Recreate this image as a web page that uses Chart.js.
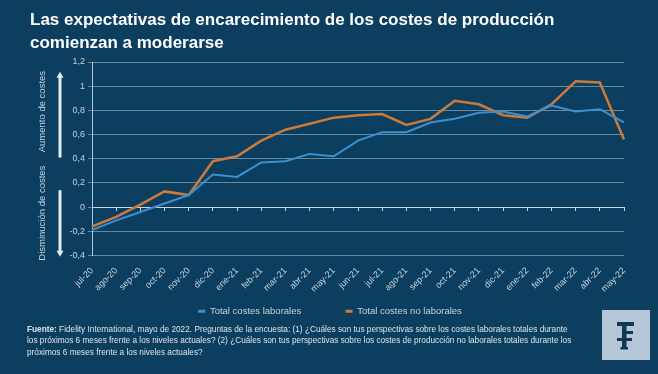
<!DOCTYPE html>
<html><head><meta charset="utf-8">
<script src="https://cdn.jsdelivr.net/npm/chart.js@4/dist/chart.umd.min.js"></script>
<style>
html,body{margin:0;padding:0;}
body{width:658px;height:374px;overflow:hidden;background:#0c3f5f;position:relative;font-family:"Liberation Sans",Arial,sans-serif;}
#title{position:absolute;left:30px;top:8px;color:#ffffff;font-weight:bold;font-size:17px;line-height:23px;}
#wrap{position:absolute;left:0;top:0;width:658px;height:374px;}
#foot{position:absolute;left:27px;top:324px;color:#dce4ea;font-size:8.25px;line-height:11.3px;white-space:nowrap;}
#logo{position:absolute;left:602px;top:310px;width:48px;height:50px;background:#b5c7d6;}
</style></head><body>
<div id="wrap"><canvas id="c" width="658" height="374"></canvas></div>
<div id="title">Las expectativas de encarecimiento de los costes de producción<br>comienzan a moderarse</div>
<div id="foot"><b>Fuente:</b> Fidelity International, mayo de 2022. Preguntas de la encuesta: (1) ¿Cuáles son tus perspectivas sobre los costes laborales totales durante<br>los próximos 6 meses frente a los niveles actuales? (2) ¿Cuáles son tus perspectivas sobre los costes de producción no laborales totales durante los<br>próximos 6 meses frente a los niveles actuales?</div>
<div id="logo"><svg width="48" height="50" viewBox="0 0 48 50">
<g fill="#0e3a56">
<rect x="15" y="12" width="17" height="4"/>
<rect x="20" y="12" width="4.5" height="27"/>
<rect x="20" y="21" width="11" height="3"/>
<rect x="15" y="28" width="15" height="3"/>
<rect x="18.5" y="37" width="7.5" height="2.5"/>
</g></svg></div>
<script>
const categories = ["jul-20","ago-20","sep-20","oct-20","nov-20","dic-20","ene-21","feb-21","mar-21","abr-21","may-21","jun-21","jul-21","ago-21","sep-21","oct-21","nov-21","dic-21","ene-22","feb-22","mar-22","abr-22","may-22"];
const costesLaborales = [-0.19,-0.11,-0.04,0.03,0.10,0.27,0.25,0.37,0.38,0.44,0.42,0.55,0.62,0.62,0.70,0.73,0.78,0.79,0.75,0.84,0.79,0.81,0.70];
const costesNoLaborales = [-0.16,-0.08,0.02,0.13,0.10,0.38,0.42,0.55,0.64,0.69,0.74,0.76,0.77,0.68,0.73,0.88,0.85,0.76,0.74,0.85,1.04,1.03,0.56];
const yTicks = {min:-0.4, max:1.2, step:0.2};
const seriesNames = ["Total costes laborales","Total costes no laborales"];

const txt = '#c8d3dc';
const grid = 'rgba(150,178,200,0.65)';
const FONT = '"Liberation Sans", Arial, sans-serif';

const sideLabels = {
  id:'sideLabels',
  afterDraw(chart){
    const y = chart.scales.y, ctx = chart.ctx;
    ctx.save();
    ctx.fillStyle = txt; ctx.font = '9.5px ' + FONT;
    ctx.textAlign='center'; ctx.textBaseline='middle';
    const drawV = (t, v)=>{ctx.save();ctx.translate(42, y.getPixelForValue(v));ctx.rotate(-Math.PI/2);ctx.fillText(t,0,0);ctx.restore();};
    drawV('Aumento de costes', 0.79);
    drawV('Disminución de costes', -0.05);
    const arrow=(v1,v2)=>{
      const x=60, a=y.getPixelForValue(v1), b=y.getPixelForValue(v2);
      const dir = b<a?-1:1;
      ctx.strokeStyle='#e4ebf0'; ctx.fillStyle='#e4ebf0'; ctx.lineWidth=3;
      ctx.beginPath(); ctx.moveTo(x,a); ctx.lineTo(x,b-dir*4); ctx.stroke();
      ctx.beginPath(); ctx.moveTo(x,b); ctx.lineTo(x-3.5,b-dir*6); ctx.lineTo(x+3.5,b-dir*6); ctx.closePath(); ctx.fill();
    };
    arrow(0.41,1.12);
    arrow(0.14,-0.41);
    ctx.restore();
  }
};

const gap = '\u00a0'.repeat(13);

new Chart(document.getElementById('c'),{
  type:'line',
  data:{labels:categories,datasets:[
    {label:seriesNames[0],data:costesLaborales,borderColor:'#3e8fcf',backgroundColor:'#3e8fcf',borderWidth:2,pointRadius:0,tension:0},
    {label:seriesNames[1],data:costesNoLaborales,borderColor:'#c97a3c',backgroundColor:'#c97a3c',borderWidth:2.5,pointRadius:0,tension:0}
  ]},
  options:{
    responsive:false,animation:false,
    layout:{padding:{left:36,right:34,top:62,bottom:48}},
    plugins:{
      legend:{position:'bottom',labels:{color:txt,font:{size:9.5,family:FONT},boxWidth:7,boxHeight:3,padding:10,
        generateLabels:(ch)=>Chart.defaults.plugins.legend.labels.generateLabels(ch).map((l,i)=>({...l,lineWidth:0,text:i===0?l.text+gap:l.text}))}},
      tooltip:{enabled:false}
    },
    scales:{
      x:{type:'category',position:'bottom',offset:false,
        grid:{display:false},border:{display:false},
        ticks:{color:txt,font:{size:9,family:FONT},maxRotation:45,minRotation:45,autoSkip:false,padding:2},
        afterFit:s=>{s.height=41;}},
      x2:{type:'category',position:{y:0},offset:false,
        grid:{drawOnChartArea:false,drawTicks:true,tickLength:3,color:'#c8d6e0'},
        border:{display:true,color:'#c8d6e0',width:1},
        ticks:{display:false}},
      y:{min:yTicks.min,max:yTicks.max,
        grid:{color:grid,lineWidth:1,drawTicks:true,tickLength:4},
        border:{display:true,color:'#b9c9d6'},
        ticks:{stepSize:yTicks.step,color:txt,font:{size:9,family:FONT},padding:3,
          callback:v=>String(Math.round(v*10)/10).replace('.',',')},
        afterFit:s=>{s.width=56;}}
    }
  },
  plugins:[sideLabels]
});
</script>
</body></html>
